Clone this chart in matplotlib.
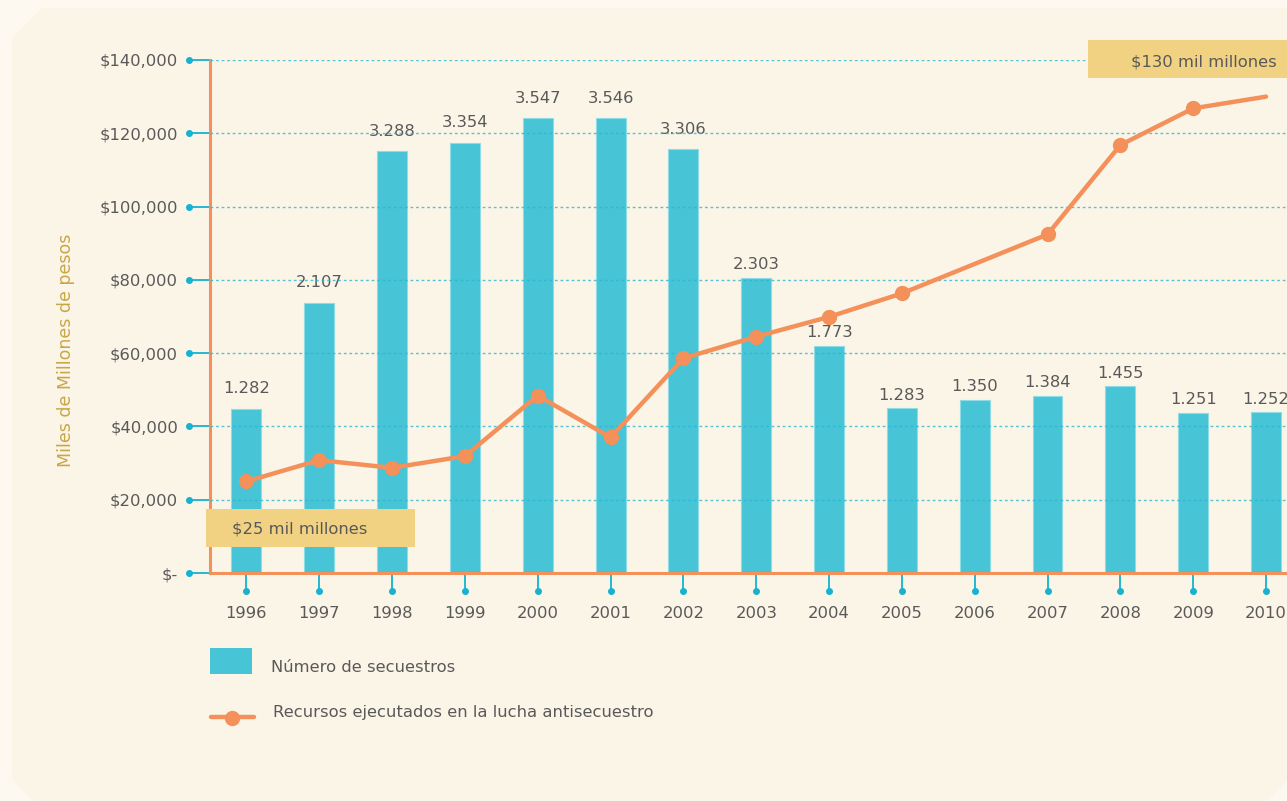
import numpy as np
import matplotlib
matplotlib.use("Agg")
import matplotlib.pyplot as plt
from matplotlib.patches import Polygon, Rectangle
from matplotlib.lines import Line2D

# datos
years = ["1996", "1997", "1998", "1999", "2000", "2001", "2002", "2003",
         "2004", "2005", "2006", "2007", "2008", "2009", "2010"]
secuestros = [1282, 2107, 3288, 3354, 3547, 3546, 3306, 2303,
              1773, 1283, 1350, 1384, 1455, 1251, 1252]
# recursos (millones de pesos); 2006 sin dato
rec_years = ["1996", "1997", "1998", "1999", "2000", "2001", "2002", "2003",
             "2004", "2005", "2007", "2008", "2009", "2010"]
recursos = [25000, 30800, 28700, 31900, 48400, 37000, 58600, 64500,
            69900, 76300, 92400, 116800, 126800, 130000]
yticks = [0, 20000, 40000, 60000, 80000, 100000, 120000, 140000]

BAR = "#47c4d6"
ORANGE = "#f4905a"
CYAN = "#16b2cf"
TXT = "#595959"
GOLD = "#c9a646"
BOX = "#f1d283"
FS = 11.8
plt.rcParams['font.family'] = ['DejaVu Sans']

W, H = 1287, 801
fig = plt.figure(figsize=(W / 100, H / 100), dpi=100)
fig.patch.set_facecolor("#fdf9f0")

# panel de fondo con esquinas cortadas
panel = Polygon([(12 / W, 1 - 38 / H), (42 / W, 1 - 8 / H), (1, 1 - 8 / H),
                 (1, 1 - 780 / H), (1268 / W, 0), (33 / W, 0),
                 (12 / W, 1 - 780 / H)],
                closed=True, transform=fig.transFigure, facecolor="#fbf5e8",
                edgecolor="none", zorder=-5)
fig.patches.append(panel)

ax_l, ax_r = 210, 1287
ax_t, ax_b = 60, 573
rect = [ax_l / W, 1 - ax_b / H, (ax_r - ax_l) / W, (ax_b - ax_t) / H]
ax2 = fig.add_axes(rect)
ax = fig.add_axes(rect, sharex=ax2)
ax2.set_zorder(1)
ax.set_zorder(2)
ax.patch.set_visible(False)
ax2.patch.set_visible(False)

x = np.arange(len(years))
xr = np.array([years.index(y) for y in rec_years])
xmax = (ax_r - 246) / 72.86
ax2.set_xlim(-0.5, xmax)

# barras: numero de secuestros
ax2.set_ylim(0, 4000)
ax2.bar(x, secuestros, width=0.41, color=BAR, edgecolor="#8fdbe6",
        linewidth=0.8, zorder=2)
for xi, v in zip(x, secuestros):
    off = 9 if xi < 7 else 4
    ax2.annotate(f"{v:,}".replace(",", "."), (xi, v), xytext=(0, off),
                 textcoords="offset points", ha="center", va="bottom",
                 fontsize=FS, color=TXT)
ax2.axis("off")

# linea: recursos
ax.set_ylim(0, 140000)
ax.plot(xr, recursos, color=ORANGE, lw=3.2, solid_capstyle="round",
        solid_joinstyle="round", zorder=4)
ax.plot(xr[:-1], recursos[:-1], "o", color=ORANGE, ms=10, zorder=5)

for s in ["top", "right"]:
    ax.spines[s].set_visible(False)
for s in ["left", "bottom"]:
    ax.spines[s].set_color(ORANGE)
    ax.spines[s].set_linewidth(2.2)

ax.set_yticks(yticks)
ax.set_yticklabels(["$-" if t == 0 else f"${t:,}" for t in yticks])
ax.set_xticks(x)
ax.set_xticklabels(years)
ax.tick_params(axis="y", length=13.5, width=1.3, color=CYAN, pad=9.5,
               labelsize=FS, labelcolor=TXT)
ax.tick_params(axis="x", length=12, width=1.3, color=CYAN, pad=11.5,
               labelsize=FS, labelcolor=TXT)
for t in ax.get_xticklabels() + ax.get_yticklabels():
    t.set_clip_on(False)

# puntos al final de cada marca
axw = ax_r - ax_l
axh = ax_b - ax_t
ax.plot([-21 / axw] * len(yticks), yticks, "o", ms=4, color=CYAN,
        transform=ax.get_yaxis_transform(), clip_on=False)
ax.plot(x, [-18 / axh] * len(x), "o", ms=4, color=CYAN,
        transform=ax.get_xaxis_transform(), clip_on=False)

# rejilla punteada
for t in yticks[1:]:
    ax.axhline(t, color="#2bb7d0", lw=1, ls=(0, (2, 2)), alpha=0.8, zorder=3)

# etiquetas de recursos
def etiqueta(x0, y0, x1, y1, texto, tx, ty, ha):
    ax.add_patch(Rectangle((x0 / W, 1 - y1 / H), (x1 - x0) / W, (y1 - y0) / H,
                           transform=fig.transFigure, fc=BOX, ec="none",
                           clip_on=False, zorder=6))
    ax.text(tx / W, 1 - ty / H, texto, ha=ha, va="center",
            transform=fig.transFigure, fontsize=FS, color=TXT, zorder=7)

etiqueta(206, 509, 415, 547, "$25 mil millones", 232, 529, "left")
etiqueta(1088, 40, 1287, 78, "$130 mil millones", 1277, 62, "right")

fig.text(66 / W, 1 - 350 / H, "Miles de Millones de pesos", rotation=90,
         ha="center", va="center", fontsize=12.5, color=GOLD)

# leyenda
fig.patches.append(Rectangle((210 / W, 1 - 674 / H), 42 / W, 26 / H,
                             transform=fig.transFigure, fc=BAR, ec="none"))
fig.text(271 / W, 1 - 668 / H, "Número de secuestros", ha="left",
         va="center", fontsize=FS, color=TXT)
fig.lines.append(Line2D([211 / W, 254 / W], [1 - 717 / H] * 2,
                        transform=fig.transFigure, color=ORANGE, lw=3.2,
                        solid_capstyle="round"))
fig.lines.append(Line2D([232 / W], [1 - 718 / H], marker="o", ms=10,
                        color=ORANGE, transform=fig.transFigure))
fig.text(273 / W, 1 - 712 / H, "Recursos ejecutados en la lucha antisecuestro",
         ha="left", va="center", fontsize=FS, color=TXT)

fig.savefig("out.png", dpi=100, facecolor=fig.get_facecolor())
